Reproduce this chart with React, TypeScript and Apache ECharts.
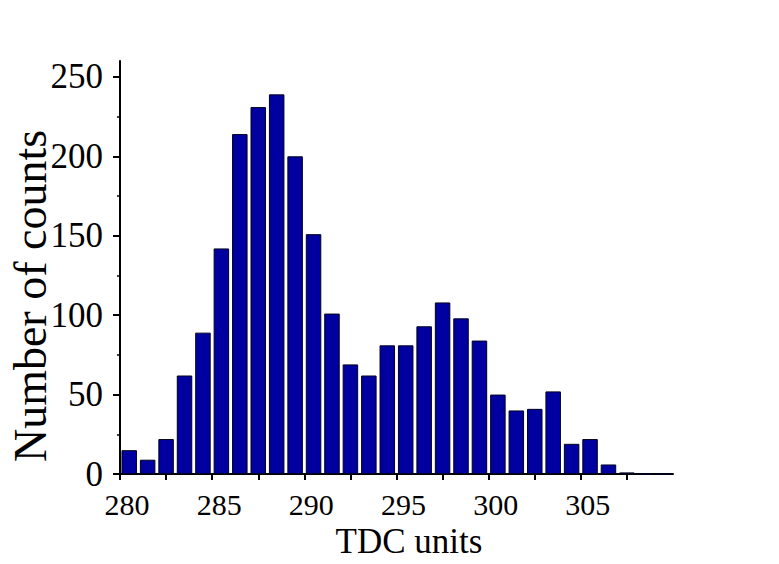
import React, { useEffect, useRef } from "react";
import * as echarts from "echarts";

// Histogram bins (lower edge, TDC units) and counts
const binStarts = [280, 281, 282, 283, 284, 285, 286, 287, 288, 289, 290, 291, 292, 293, 294, 295, 296, 297, 298, 299, 300, 301, 302, 303, 304, 305, 306, 307, 308, 309];
const counts = [15, 9, 22, 62, 89, 142, 214, 231, 239, 200, 151, 101, 69, 62, 81, 81, 93, 108, 98, 84, 50, 40, 41, 52, 19, 22, 6, 1, 0, 0];

// Axis ticks and labels
const xTickValues = [280, 282.5, 285, 287.5, 290, 292.5, 295, 297.5, 300, 302.5, 305, 307.5];
const xLabelValues = [280, 285, 290, 295, 300, 305];
const yLabelValues = [0, 50, 100, 150, 200, 250];
const yMinorTickValues = [25, 75, 125, 175, 225];

const xTitle = "TDC units";
const yTitle = "Number of counts";

const FONT = '"Liberation Serif", "Times New Roman", serif';

export default function App() {
  const ref = useRef<HTMLDivElement>(null);

  useEffect(() => {
    if (!ref.current) return;
    const chart = echarts.init(ref.current, null, { renderer: "svg" });
    const data = binStarts.map((b, i) => [b + 0.5, counts[i]]);

    chart.setOption({
      animation: false,
      backgroundColor: "#ffffff",
      grid: { left: 120, right: 106, top: 61, bottom: 90, containLabel: false },
      xAxis: {
        type: "value",
        min: 280,
        max: 310,
        interval: 2.5,
        axisLine: { show: true, onZero: false, lineStyle: { color: "#000", width: 2 } },
        axisTick: {
          show: true,
          inside: false,
          length: 6,
          customValues: xTickValues,
          lineStyle: { color: "#000", width: 2 },
        },
        axisLabel: {
          show: true,
          customValues: xLabelValues,
          margin: 15,
          fontFamily: FONT,
          fontSize: 30,
          color: "#000",
          padding: [0, 0, 0, 14],
        },
        splitLine: { show: false },
      },
      yAxis: [
        {
          type: "value",
          min: 0,
          max: 260,
          interval: 50,
          axisLine: { show: true, onZero: false, lineStyle: { color: "#000", width: 2 } },
          axisTick: {
            show: true,
            inside: false,
            length: 7,
            customValues: yLabelValues,
            lineStyle: { color: "#000", width: 2 },
          },
          axisLabel: {
            show: true,
            customValues: yLabelValues,
            margin: 17,
            fontFamily: FONT,
            fontSize: 35,
            color: "#000",
          },
          splitLine: { show: false },
        },
        {
          type: "value",
          min: 0,
          max: 260,
          position: "left",
          axisLine: { show: false },
          axisTick: {
            show: true,
            inside: false,
            length: 3,
            customValues: yMinorTickValues,
            lineStyle: { color: "#000", width: 1.5 },
          },
          axisLabel: { show: false },
          splitLine: { show: false },
        },
      ],
      graphic: [
        {
          type: "text",
          x: 409,
          y: 541,
          style: {
            text: xTitle,
            font: `35px ${FONT}`,
            fill: "#000",
            align: "center",
            verticalAlign: "middle",
          },
        },
        {
          type: "text",
          x: 30,
          y: 296,
          rotation: Math.PI / 2,
          style: {
            text: yTitle,
            font: `46px ${FONT}`,
            fill: "#000",
            align: "center",
            verticalAlign: "middle",
          },
        },
      ],
      series: [
        {
          type: "bar",
          data,
          barWidth: 15.5,
          itemStyle: { color: "#0000a0", borderColor: "#000020", borderWidth: 1 },
        },
      ],
    });

    return () => chart.dispose();
  }, []);

  return (
    <div
      ref={ref}
      style={{ position: "fixed", left: 0, top: 0, width: 779, height: 564, background: "#fff" }}
    />
  );
}
